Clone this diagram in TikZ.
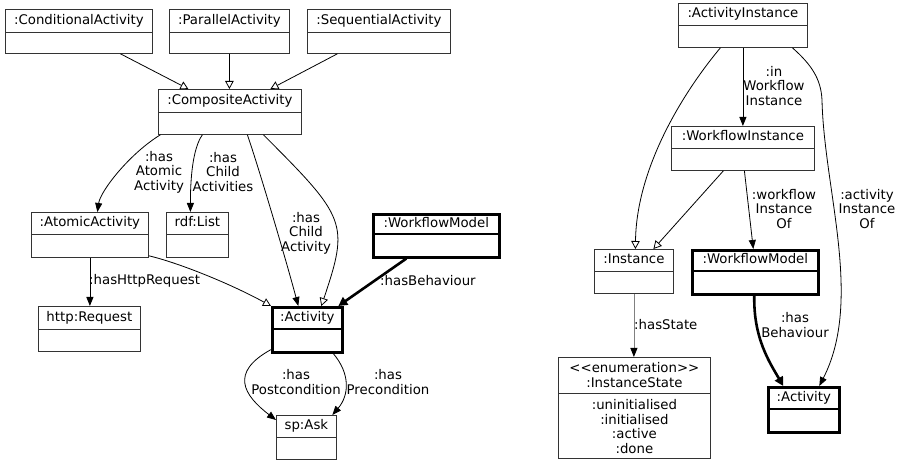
\documentclass[tikz,border=0pt]{standalone}
\usepackage{fontspec}
\setmainfont{DejaVu Sans}
\usetikzlibrary{arrows.meta,calc}
\tikzset{
  every node/.style={font=\fontsize{13.3}{14.5}\selectfont},
  umlframe/.style={draw=black!80, line width=0.8pt, inner sep=0pt, fill=white},
  umldiv/.style={draw=black!80, line width=0.8pt},
  heavy/.style={line width=2.6pt, draw=black},
  umltext/.style={inner sep=0pt, text height=10.5pt, text depth=2.5pt},
  lbl/.style={inner sep=0pt, align=center},
  conn/.style={draw=black, line width=0.8pt},
  filltip/.style={-{Triangle[length=9pt,width=7pt]}},
  graytip/.style={-{Triangle[length=9pt,width=7pt,color=black]}},
  opentip/.style={-{Triangle[open,length=8pt,width=8.5pt,fill=white]}},
  heavytip/.style={draw=black, line width=2.6pt, -{Triangle[length=9pt,width=9pt]}},
}
\newcommand\umlbox[8][]{%
  \node[umlframe,#1,anchor=north west,minimum width=#4,minimum height=#6] (#2) at #3 {};
  \draw[umldiv,#1] ([yshift=-#5]#2.north west) -- ([yshift=-#5]#2.north east);
  \node[umltext] (#2-head) at ([yshift=-#5/2]#2.north) {#7};
  \node[umltext] (#2-body) at ([yshift={(#6-#5)/2}]#2.south) {#8};
}
\begin{document}
\begin{tikzpicture}[x=1pt,y=-1pt]
\fill[white] (0,0) rectangle (903,462);
\useasboundingbox (0,0) rectangle (903,462);
% boxes
\umlbox{cond}{(5,9)}{147}{23}{44}{:ConditionalActivity}{}
\umlbox{par}{(169,9)}{120}{23}{44}{:ParallelActivity}{}
\umlbox{seq}{(307,9)}{143}{23}{44}{:SequentialActivity}{}
\umlbox{comp}{(158,89)}{143}{23}{45}{:CompositeActivity}{}
\umlbox{atom}{(31,212)}{117}{22}{45}{:AtomicActivity}{}
\umlbox{list}{(166,212)}{62}{22}{45}{rdf:List}{}
\umlbox[heavy]{wmA}{(372,213)}{126}{21}{43}{:WorkflowModel}{}
\umlbox{http}{(38,306)}{102}{23}{45}{http:Request}{}
\umlbox[heavy]{actA}{(271,306)}{70}{23}{45}{:Activity}{}
\umlbox{ask}{(276,415)}{60}{22}{44}{sp:Ask}{}
\umlbox{ai}{(678,3)}{129}{22}{44}{:ActivityInstance}{}
\umlbox{wi}{(671,126)}{143}{22}{44}{:WorkflowInstance}{}
\umlbox{inst}{(594,249)}{79}{22}{44}{:Instance}{}
\umlbox[heavy]{wmB}{(691,249)}{126}{22}{44}{:WorkflowModel}{}
\umlbox[heavy]{actB}{(767,386)}{71}{23}{45}{:Activity}{}
\node[umlframe,anchor=north west,minimum width=152,minimum height=101] (state) at (558,357) {};
\draw[umldiv] ([yshift=-36]state.north west) -- ([yshift=-36]state.north east);
\node[lbl] (state-head) at ([yshift=-18]state.north) {<\kern0pt<enumeration>\kern0pt>\\:InstanceState};
\node[lbl] (state-body) at ([yshift=32.5]state.south) {:uninitialised\\:initialised\\:active\\:done};
% left connectors
\draw[conn,opentip] ([xshift=41.5]cond.south) -- ([xshift=-41.5]comp.north);
\draw[conn,opentip] (par.south) -- (par.south |- comp.north);
\draw[conn,opentip] ([xshift=-41.5]seq.south) -- ([xshift=40.5]comp.north);
\draw[conn,filltip] ([xshift=-69.5]comp.south) .. controls +(-31,19) and +(3,-21) .. ([xshift=7.5]atom.north);
\draw[conn,filltip] ([xshift=-27.5]comp.south) .. controls +(-10,14) and +(0,-32) .. ([xshift=-7]list.north);
\draw[conn,filltip] ([xshift=17.5]comp.south) .. controls +(12,35) and +(-12,-45) .. ([xshift=-9]actA.north);
\draw[conn,opentip] ([xshift=33.5]comp.south) .. controls +(83,83) and +(28,-83) .. ([xshift=14]actA.north);
\draw[conn,opentip] ([yshift=2]atom.south east) .. controls +(30,7) and +(-40,-22) .. (actA.north west);
\draw[conn,filltip] (atom.south) -- (atom.south |- http.north);
\draw[heavytip] ([xshift=-30]wmA.south) -- ([xshift=31]actA.north);
\draw[conn,filltip] ([yshift=4]actA.south west) .. controls +(-42,23) and +(-32,-24.5) .. ([yshift=-5]ask.north west);
\draw[conn,filltip] ([xshift=26]actA.south) .. controls +(17,20) and +(17,-20) .. ([xshift=26]ask.north);
% right connectors
\draw[conn,opentip] ([xshift=-22.5]ai.south) .. controls +(-40,48) and +(1,-79) .. ([xshift=1.5]inst.north);
\draw[conn,opentip] ([xshift=-19.5]wi.south) -- ([xshift=19.5]inst.north);
\draw[conn,filltip] (ai.south) -- (wi.north);
\draw[conn,filltip] ([xshift=1.5]wi.south) -- ([xshift=-2]wmB.north);
\draw[conn,filltip] ([xshift=49.5]ai.south) .. controls +(18,16) and +(-1,-22) .. (822,100) .. controls +(2,90) and +(44,-86) .. ([xshift=15.5]actB.north);
\draw[heavytip] ([xshift=-1]wmB.south) .. controls +(-1,42) and +(-14,-24) .. ([xshift=-20.5]actB.north);
\draw[conn,graytip,draw=black!50] (inst.south) -- (inst.south |- state.north);
% labels
\node[lbl] (l1) at (159,172) {:has\\Atomic\\Activity};
\node[lbl] (l2) at (223,172) {:has\\Child\\Activities};
\node[lbl] (l3) at (306,233) {:has\\Child\\Activity};
\node[lbl,anchor=west] (l4) at (89,281) {:hasHttpRequest};
\node[lbl,anchor=west] (l5) at (380,281) {:hasBehaviour};
\node[lbl] (l6) at (296,382) {:has\\Postcondition};
\node[lbl] (l7) at (388,382) {:has\\Precondition};
\node[lbl] (r1) at (774,86) {:in\\Workflow\\Instance};
\node[lbl] (r2) at (784,209) {:workflow\\Instance\\Of};
\node[lbl] (r3) at (867,209) {:activity\\Instance\\Of};
\node[lbl] (r4) at (795,325) {:has\\Behaviour};
\node[lbl,anchor=west] (r5) at (634,325) {:hasState};
\end{tikzpicture}
\end{document}
